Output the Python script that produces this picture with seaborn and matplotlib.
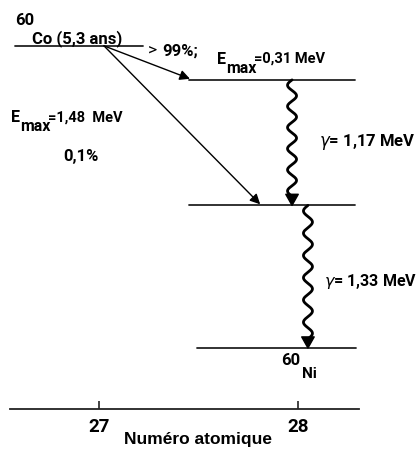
import numpy as np
import pandas as pd
import matplotlib
matplotlib.use("Agg")
import matplotlib.pyplot as plt
import seaborn as sns

# ─── Data: decay scheme 60Co -> 60Ni ───
level_names = ["Co", "Ni*2", "Ni*1", "Ni"]
level_z = [27, 28, 28, 28]
level_energy = [2.824, 2.506, 1.333, 0.0]   # MeV

beta_targets = [2.506, 1.333]               # levels fed by beta decay
beta_ends_z = [27.457, 27.81]
gamma_from = [2.506, 1.333]
gamma_to = [1.333, 0.0]
gamma_z = [27.97, 28.05]

z_ticks = [27, 28]
z_labels = ["27", "28"]

sns.set_theme(style="white")
COND = ["Roboto", "DejaVu Sans"]
plt.rcParams["font.family"] = COND
plt.rcParams["mathtext.fontset"] = "dejavusans"
plt.rcParams["text.color"] = "black"
plt.rcParams["xtick.labelcolor"] = "black"

fig = plt.figure(figsize=(4.17, 4.56), dpi=100)
ax = fig.add_axes([0, 0, 1, 1])
ax.set_xlim(26.5025, 28.598)
ax.set_ylim(-1.0, 3.262)

# level lines
rows = []
for name, z, e in zip(level_names, level_z, level_energy):
    if z == 27:
        lo, hi = z - 0.42, z + 0.22
    elif e == 0.0:
        lo, hi = z - 0.51, z + 0.29
    else:
        lo, hi = z - 0.55, z + 0.285
    rows.append({"level": name, "z": lo, "E": e})
    rows.append({"level": name, "z": hi, "E": e})
levels = pd.DataFrame(rows)
sns.lineplot(data=levels, x="z", y="E", units="level", estimator=None,
             color="#222222", lw=1.3, ax=ax, legend=False)

# beta transitions
start = (27.025, level_energy[0])
for ez, et in zip(beta_ends_z, beta_targets):
    ax.annotate("", xy=(ez, et + 0.01), xytext=start,
                arrowprops=dict(arrowstyle="-|>", color="black", lw=1.0,
                                mutation_scale=15, shrinkA=0, shrinkB=0))


# gamma transitions (wavy arrows)
def wavy(x0, y0, y1, periods, amp=0.0226, head=0.085):
    yy = np.linspace(y0, y1 + head, 300)
    frac = (y0 - yy) / (y0 - y1 - head)
    xx = x0 - amp * np.sin(2 * np.pi * periods * frac)
    ax.plot(xx, yy, color="black", lw=2.0, solid_capstyle="round")
    ax.annotate("", xy=(x0, y1), xytext=(x0, y1 + head + 0.005),
                arrowprops=dict(facecolor="black", edgecolor="black",
                                width=0.1, headwidth=9, headlength=8, shrink=0))


wavy(gamma_z[0], gamma_from[0], gamma_to[0], 5.5)
wavy(gamma_z[1], gamma_from[1], gamma_to[1], 6.0)

# texts
kw = dict(family=COND, color="black", va="center", ha="left", fontweight="bold")
ax.text(26.578, 3.075, "60", fontsize=12, **kw)
ax.text(26.665, 2.905, "Co (5,3 ans)", fontsize=12, **kw)
ax.text(27.248, 2.785, ">", fontsize=12.5, family=COND, color="black",
        va="center", ha="left")
ax.text(27.318, 2.78, "99%;", fontsize=12, **kw)

ax.text(27.595, 2.71, "E", fontsize=11.5, **kw)
ax.text(27.64, 2.625, "max", fontsize=11.5, **kw)
ax.text(27.78, 2.71, "=0,31 MeV", fontsize=10.5, **kw)

ax.text(26.56, 2.16, "E", fontsize=11.5, **kw)
ax.text(26.602, 2.075, "max", fontsize=11.5, **kw)
ax.text(26.742, 2.165, "=1,48  MeV", fontsize=10.5, **kw)
ax.text(26.82, 1.795, "0,1%", fontsize=12, **kw)

ax.text(28.105, 1.935, r"$\gamma$= 1,17 MeV", fontsize=12, **kw)
ax.text(28.13, 0.628, r"$\gamma$= 1,33 MeV", fontsize=11.5, **kw)

ax.text(27.916, -0.112, "60", fontsize=12, **kw)
ax.text(28.022, -0.235, "Ni", fontsize=11, **kw)

# atomic number axis
for side in ["top", "right", "left"]:
    ax.spines[side].set_visible(False)
ax.spines["bottom"].set_position(("data", -0.57))
ax.spines["bottom"].set_bounds(26.553, 28.307)
ax.spines["bottom"].set_color("#222222")
ax.spines["bottom"].set_linewidth(1.3)
ax.set_yticks([])
ax.set_xticks(z_ticks)
ax.set_xticklabels(z_labels, fontsize=13.5, fontweight="bold", family=COND,
                   color="black")
ax.tick_params(axis="x", direction="in", length=6, width=1.2,
               color="#222222", pad=6, bottom=True)
ax.set_xlabel("")
ax.set_ylabel("")
ax.text(27.497, -0.85, "Numéro atomique", fontsize=12.5, fontweight="bold",
        color="black", family=["Liberation Sans", "DejaVu Sans"],
        ha="center", va="center")

fig.savefig("out.png", dpi=100, facecolor="white")
